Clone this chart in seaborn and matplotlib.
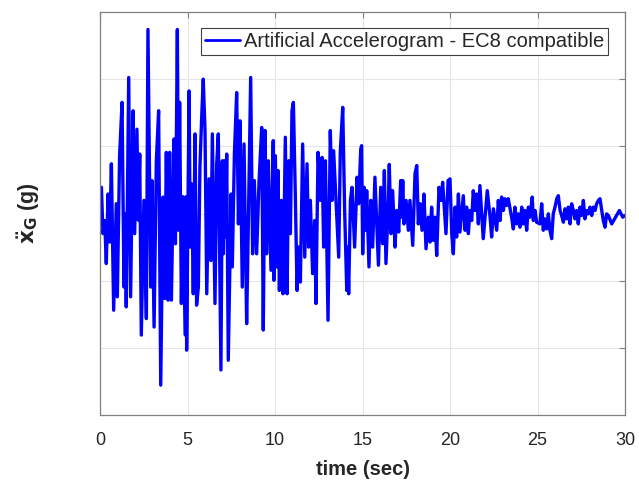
import numpy as np
import pandas as pd
import matplotlib
matplotlib.use("Agg")
import matplotlib.pyplot as plt
import seaborn as sns

# ---- data (time in s, ground acceleration in g) ----
t_seg1 = [0.00, 0.08, 0.17, 0.27, 0.36, 0.46, 0.55, 0.65, 0.78, 0.93, 0.99, 1.12, 1.26, 1.37, 1.44,
          1.50, 1.64, 1.75, 1.89, 1.98, 2.11, 2.19, 2.27, 2.36, 2.51, 2.65, 2.74, 2.90, 2.97, 3.09,
          3.22, 3.35, 3.47, 3.60, 3.70, 3.79, 3.89, 3.98, 4.08, 4.23, 4.31, 4.42, 4.49, 4.55, 4.65,
          4.74, 4.80, 4.88, 4.93]
a_seg1 = [0.000, 0.078, -0.060, -0.021, -0.149, 0.058, -0.085, 0.148, -0.288, 0.029, -0.248, 0.172, 0.331, -0.219, 0.000,
          -0.278, 0.405, -0.248, 0.306, -0.060, 0.251, -0.020, 0.177, -0.362, 0.039, -0.313, 0.548, -0.219, 0.098, -0.338,
          0.157, 0.306, -0.511, 0.049, -0.253, 0.182, -0.258, 0.182, -0.258, 0.222, -0.090, 0.548, -0.050, 0.331, -0.268,
          0.050, -0.169, -0.362, 0.050]

t_seg2 = [4.95, 5.09, 5.16, 5.24, 5.33, 5.43, 5.52, 5.62, 5.71, 5.81, 5.90, 6.00, 6.10, 6.23, 6.34,
          6.42, 6.57, 6.67, 6.76, 6.91, 6.99, 7.05, 7.11, 7.17, 7.24, 7.33, 7.49, 7.56, 7.68, 7.81,
          7.91, 8.00, 8.13, 8.23, 8.38, 8.48, 8.61, 8.72, 8.82, 8.95, 9.09, 9.24, 9.33, 9.43, 9.52,
          9.62, 9.77, 9.90]
a_seg2 = [-0.407, 0.365, -0.100, 0.088, -0.239, 0.237, -0.273, -0.219, 0.138, 0.286, 0.400, 0.247, -0.239, 0.103, -0.140,
          0.237, -0.268, 0.148, 0.237, -0.466, 0.157, -0.120, 0.157, -0.070, 0.177, -0.437, 0.058, -0.159, 0.177, 0.360,
          -0.031, 0.276, -0.219, 0.207, -0.328, -0.021, 0.405, -0.120, 0.098, -0.120, 0.098, 0.256, -0.347, 0.247, -0.120,
          0.157, -0.169, 0.217]

t_seg3 = [9.94, 10.02, 10.11, 10.17, 10.25, 10.36, 10.46, 10.59, 10.69, 10.78, 10.88, 10.97, 11.05, 11.16, 11.26,
          11.35, 11.45, 11.58, 11.70, 11.83, 11.92, 12.02, 12.15, 12.27, 12.34, 12.46, 12.59, 12.69, 12.78, 12.88,
          13.03, 13.16, 13.26, 13.35, 13.64, 13.73, 13.87, 13.98, 14.10, 14.15, 14.21, 14.31, 14.40, 14.55, 14.69,
          14.78, 14.90]
a_seg3 = [-0.199, 0.172, -0.159, 0.128, -0.229, 0.039, -0.239, 0.227, -0.239, 0.157, -0.060, 0.306, 0.331, 0.058, -0.229,
          -0.100, -0.204, 0.207, -0.130, 0.148, -0.100, 0.039, -0.179, -0.021, -0.268, 0.182, 0.039, 0.167, -0.100, 0.157,
          -0.318, 0.247, 0.039, 0.187, -0.130, 0.182, 0.316, 0.009, -0.229, -0.100, -0.239, 0.039, 0.078, -0.100, 0.108,
          0.029, 0.192]

t_seg4 = [14.95, 15.01, 15.09, 15.18, 15.24, 15.37, 15.47, 15.58, 15.71, 15.91, 16.04, 16.15, 16.25, 16.34, 16.48,
          16.53, 16.63, 16.72, 16.86, 16.95, 17.07, 17.18, 17.24, 17.30, 17.37, 17.49, 17.62, 17.71, 17.87, 18.00,
          18.10, 18.19, 18.29, 18.40, 18.51, 18.63, 18.76, 18.86, 18.95, 19.05, 19.14, 19.24, 19.37, 19.49, 19.58,
          19.77, 19.89]
a_seg4 = [0.202, -0.120, 0.078, -0.050, 0.068, -0.159, 0.039, -0.100, 0.108, -0.154, 0.078, -0.090, 0.128, -0.149, 0.039,
          0.146, -0.060, 0.068, -0.100, 0.009, -0.055, 0.098, -0.011, 0.098, -0.031, 0.039, -0.050, 0.039, -0.095, 0.118,
          0.143, -0.031, 0.029, -0.050, 0.058, -0.105, -0.011, -0.085, 0.019, -0.080, -0.011, -0.125, 0.078, 0.039, 0.093,
          -0.060, 0.098]

t_seg5 = [20.00, 20.10, 20.19, 20.29, 20.38, 20.48, 20.57, 20.76, 20.86, 20.95, 21.05, 21.14, 21.24, 21.33, 21.43,
          21.52, 21.62, 21.71, 21.90, 22.13, 22.29, 22.38, 22.48, 22.67, 22.76, 22.86, 22.95, 23.05, 23.14, 23.24,
          23.33, 23.52, 23.62, 23.71, 23.81, 23.90, 24.00, 24.10, 24.19, 24.29, 24.38, 24.48, 24.57, 24.70]
a_seg5 = [0.103, -0.060, -0.120, 0.019, -0.070, 0.058, -0.055, 0.053, -0.050, 0.019, -0.060, 0.009, -0.021, 0.068, 0.009,
          0.058, -0.031, 0.083, -0.075, 0.068, -0.011, -0.070, 0.014, -0.050, 0.039, -0.021, 0.049, 0.009, 0.044, 0.024,
          0.044, -0.011, -0.046, 0.019, -0.031, -0.001, -0.041, 0.019, -0.031, 0.009, -0.050, 0.019, -0.011, 0.049]

t_seg6 = [24.76, 24.86, 24.95, 25.14, 25.24, 25.33, 25.43, 25.52, 25.62, 25.71, 25.81, 25.90, 26.00, 26.10, 26.19,
          26.29, 26.38, 26.48, 26.57, 26.67, 26.76, 26.86, 26.95, 27.05, 27.14, 27.24, 27.33, 27.43, 27.52, 27.62,
          27.71, 27.81, 27.90, 28.00, 28.10, 28.19, 28.29, 28.38, 28.48, 28.57, 28.67, 28.76, 28.86, 28.95, 29.05,
          29.24, 29.68, 29.87, 30.00]
a_seg6 = [-0.021, 0.009, -0.026, -0.031, 0.029, -0.050, -0.016, -0.046, -0.001, -0.050, -0.075, -0.001, 0.019, 0.044, 0.053,
          0.009, -0.006, -0.026, 0.014, -0.016, 0.019, -0.031, 0.029, 0.009, -0.016, 0.009, -0.031, 0.019, -0.006, 0.039,
          -0.016, 0.009, -0.001, 0.019, -0.006, 0.019, 0.009, 0.029, 0.039, 0.044, 0.009, -0.021, -0.041, -0.001, -0.006,
          -0.031, 0.009, -0.011, -0.006]

x_ticks = [0, 5, 10, 15, 20, 25, 30]
y_ticks = [-0.4, -0.2, 0.0, 0.2, 0.4]
legend_label = "Artificial Accelerogram - EC8 compatible"

df = pd.DataFrame({
    "time": t_seg1 + t_seg2 + t_seg3 + t_seg4 + t_seg5 + t_seg6,
    "acc": a_seg1 + a_seg2 + a_seg3 + a_seg4 + a_seg5 + a_seg6,
})

sns.set_theme(style="whitegrid")
plt.rcParams["font.family"] = ["Liberation Sans", "DejaVu Sans"]

fig = plt.figure(figsize=(6.39, 4.8), dpi=100)
ax = fig.add_axes([100 / 639, 65 / 480, 525 / 639, 403 / 480])

sns.lineplot(data=df, x="time", y="acc", ax=ax, color="#0000ff", linewidth=2.4,
             estimator=None, sort=False, label=legend_label)

ax.set_xlim(0, 30)
ax.set_ylim(-0.6, 0.6)
ax.set_xticks(x_ticks)
ax.set_yticks(y_ticks)
ax.set_yticklabels([])
ax.tick_params(axis="both", direction="in", length=4, width=0.8, color="#808080",
               top=True, right=True, labelsize=13, labelcolor="#262626", pad=12)
ax.grid(True, color="#e6e6e6", linewidth=0.8)
for sp in ax.spines.values():
    sp.set_color("#808080")
    sp.set_linewidth(0.9)

ax.set_xlabel("time (sec)", fontsize=14.5, fontweight="bold", color="#262626", labelpad=8)
ax.set_ylabel(r"$\mathbf{\ddot{x}_G}$ (g)", fontsize=15.5, fontweight="bold", color="#262626", labelpad=30)

leg = ax.legend(loc="upper right", fontsize=14.5, frameon=True, fancybox=False,
                bbox_to_anchor=(608 / 639, 452 / 480), bbox_transform=fig.transFigure,
                borderaxespad=0.0, handlelength=1.7, handletextpad=0.2, borderpad=0.2)
leg.get_frame().set_edgecolor("#404040")
leg.get_frame().set_linewidth(0.8)
leg.get_frame().set_alpha(1)
for h in leg.get_lines():
    h.set_linewidth(2.0)

fig.savefig("out.png", dpi=100)
